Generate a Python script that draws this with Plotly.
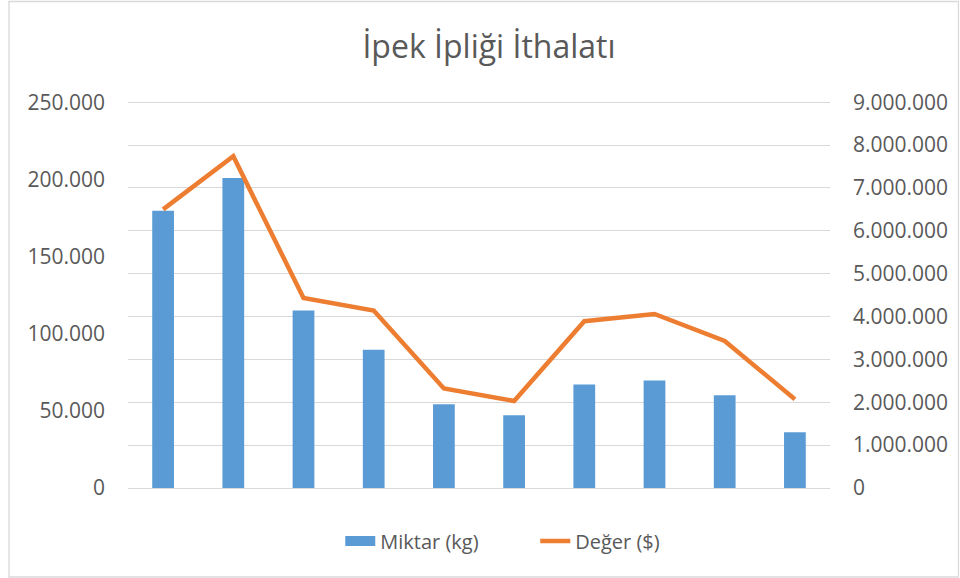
import plotly.graph_objects as go

categories = ["1", "2", "3", "4", "5", "6", "7", "8", "9", "10"]
miktar_kg = [179600, 200900, 115000, 89600, 54300, 47200, 67000, 69600, 60100, 36200]
deger_usd = [6500000, 7740000, 4430000, 4140000, 2320000, 2030000, 3890000, 4060000, 3430000, 2070000]
left_ticks = [0, 50000, 100000, 150000, 200000, 250000]
right_ticks = [0, 1000000, 2000000, 3000000, 4000000, 5000000, 6000000, 7000000, 8000000, 9000000]

FONT = "Open Sans"
GREY = "#595959"
GRID = "#D9D9D9"
BLUE = "#5B9BD5"
ORANGE = "#ED7D31"
PAD = 1.003  # tiny headroom so the top gridline is drawn

fig = go.Figure()
fig.add_trace(go.Bar(
    x=categories, y=miktar_kg, name="Miktar (kg)",
    marker=dict(color=BLUE, line=dict(width=0)),
    width=0.31, yaxis="y", showlegend=False,
))
# legend entry for the bars (wide swatch like the original)
fig.add_trace(go.Scatter(
    x=[None], y=[None], name="Miktar (kg)", mode="lines",
    line=dict(color=BLUE, width=10), yaxis="y",
))
fig.add_trace(go.Scatter(
    x=categories, y=deger_usd, name="Değer ($)", mode="lines",
    line=dict(color=ORANGE, width=4.5), yaxis="y2",
))

fig.update_layout(
    width=960, height=578,
    margin=dict(l=128, r=127, t=101, b=90),
    paper_bgcolor="white", plot_bgcolor="white",
    separators=",.",
    font=dict(family=FONT, size=20, color=GREY),
    title=dict(text="İpek İpliği İthalatı", x=489 / 960, xanchor="center",
               xref="container",
               y=1 - 47 / 578, yanchor="middle", yref="container",
               font=dict(family=FONT, size=32, color=GREY)),
    xaxis=dict(type="category", showticklabels=False, showgrid=False,
               showline=False, zeroline=False, ticks=""),
    yaxis=dict(range=[0, 250000 * PAD], tickvals=left_ticks, tickformat=",d",
               showgrid=False, zeroline=False, showline=False, ticks="",
               ticklabelstandoff=22,
               tickfont=dict(family=FONT, size=21, color=GREY)),
    yaxis2=dict(range=[0, 9000000 * PAD], tickvals=right_ticks, tickformat=",d",
                overlaying="y", side="right", showgrid=True, gridcolor=GRID,
                gridwidth=1.3, zeroline=True, zerolinecolor=GRID,
                zerolinewidth=1.3, showline=False, ticks="",
                ticklabelstandoff=22,
                tickfont=dict(family=FONT, size=21, color=GREY)),
    legend=dict(orientation="h", x=(537 - 128) / 705, xanchor="center",
                y=(488 - 541) / 387, yanchor="middle",
                font=dict(family=FONT, size=20, color=GREY),
                entrywidth=150, entrywidthmode="pixels",
                bgcolor="rgba(0,0,0,0)"),
    showlegend=True,
    bargap=0.69,
)

# outer chart border
fig.add_shape(type="rect", xref="paper", yref="paper",
              x0=(8.5 - 128) / 705, x1=(962 - 128) / 705,
              y0=(488 - 577) / 387, y1=(488 - 1.5) / 387,
              line=dict(color=GRID, width=1.3), layer="below")

fig.write_html("out.html", config={"displayModeBar": False},
               post_script="document.body.style.margin='0';document.body.style.overflow='hidden';")
